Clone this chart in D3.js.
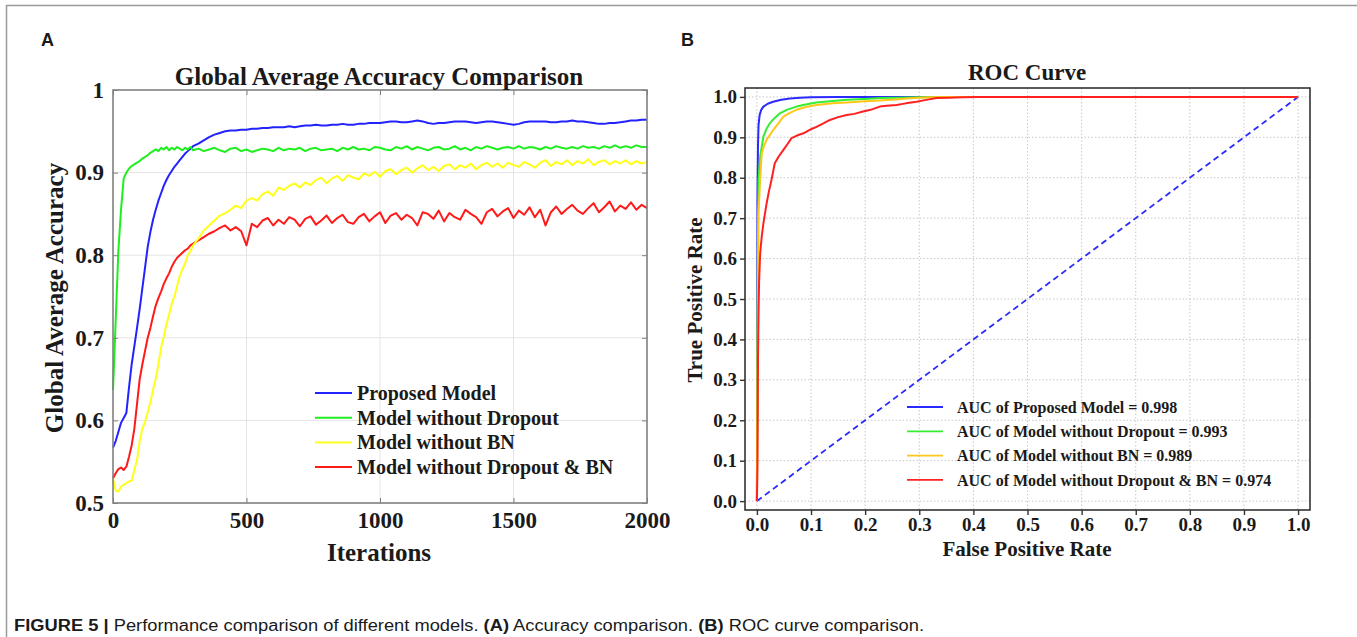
<!DOCTYPE html>
<html>
<head>
<meta charset="utf-8">
<script src="https://cdn.jsdelivr.net/npm/d3@7"></script>
<style>
  body { margin: 0; background: #fff; }
  svg { display: block; }
  .serif { font-family: "Liberation Serif", "Times New Roman", serif; font-weight: bold; fill: #1a1a1a; }
  .sans { font-family: "Liberation Sans", Arial, sans-serif; fill: #1a1a1a; }
</style>
</head>
<body>
<script>
'use strict';

// ---- panel A: accuracy vs iterations ----
var earlyIterations = [0, 10, 20, 30, 40, 50, 60, 70, 80, 90, 100, 110, 120, 130, 140, 150,
  160, 170, 180, 190, 200, 210, 220, 230, 240, 250, 260, 270, 280, 290, 300];
var lateIterations = [320, 340, 360, 380, 400, 420, 440, 460, 480, 500,
  520, 540, 560, 580, 600, 620, 640, 660, 680, 700,
  720, 740, 760, 780, 800, 820, 840, 860, 880, 900,
  920, 940, 960, 980, 1000, 1020, 1040, 1060, 1080, 1100,
  1120, 1140, 1160, 1180, 1200, 1220, 1240, 1260, 1280, 1300,
  1320, 1340, 1360, 1380, 1400, 1420, 1440, 1460, 1480, 1500,
  1520, 1540, 1560, 1580, 1600, 1620, 1640, 1660, 1680, 1700,
  1720, 1740, 1760, 1780, 1800, 1820, 1840, 1860, 1880, 1900,
  1920, 1940, 1960, 1980, 2000];

var proposedAcc = [0.567, 0.575, 0.586, 0.597, 0.603, 0.609, 0.640, 0.668, 0.690, 0.712,
  0.735, 0.760, 0.785, 0.810, 0.828, 0.843, 0.855, 0.866, 0.875, 0.884,
  0.891, 0.897, 0.902, 0.907, 0.911, 0.915, 0.919, 0.923, 0.926, 0.929, 0.932,
  0.935, 0.939, 0.943, 0.946, 0.948, 0.950, 0.951, 0.951, 0.952, 0.952,
  0.953, 0.953, 0.954, 0.954, 0.955, 0.955, 0.955, 0.956, 0.955, 0.956,
  0.957, 0.957, 0.958, 0.957, 0.957, 0.958, 0.958, 0.959, 0.958, 0.958,
  0.959, 0.959, 0.960, 0.960, 0.960, 0.961, 0.962, 0.962, 0.961, 0.961,
  0.962, 0.963, 0.962, 0.960, 0.959, 0.960, 0.960, 0.961, 0.962, 0.962,
  0.962, 0.961, 0.960, 0.961, 0.962, 0.962, 0.961, 0.960, 0.959, 0.958,
  0.959, 0.961, 0.962, 0.962, 0.962, 0.962, 0.961, 0.961, 0.962, 0.962,
  0.963, 0.962, 0.962, 0.961, 0.960, 0.959, 0.959, 0.960, 0.960, 0.961,
  0.962, 0.963, 0.963, 0.964, 0.964];

var noDropoutAcc = [0.637, 0.720, 0.805, 0.855, 0.893, 0.900, 0.905, 0.908, 0.910, 0.912,
  0.914, 0.917, 0.919, 0.921, 0.924, 0.926, 0.928, 0.926, 0.930, 0.928,
  0.931, 0.927, 0.930, 0.928, 0.931, 0.929, 0.927, 0.930, 0.928, 0.931, 0.927,
  0.929, 0.926, 0.928, 0.930, 0.927, 0.925, 0.929, 0.930, 0.926, 0.928,
  0.925, 0.927, 0.929, 0.928, 0.926, 0.930, 0.927, 0.929, 0.928, 0.930,
  0.926, 0.929, 0.930, 0.927, 0.928, 0.929, 0.926, 0.930, 0.928, 0.931,
  0.928, 0.929, 0.927, 0.931, 0.930, 0.928, 0.927, 0.931, 0.929, 0.932,
  0.928, 0.931, 0.929, 0.927, 0.930, 0.931, 0.928, 0.929, 0.932, 0.928,
  0.930, 0.927, 0.931, 0.929, 0.932, 0.930, 0.928, 0.930, 0.931, 0.929,
  0.932, 0.929, 0.931, 0.930, 0.928, 0.931, 0.929, 0.932, 0.930, 0.929,
  0.931, 0.929, 0.932, 0.930, 0.931, 0.929, 0.932, 0.930, 0.933, 0.930,
  0.932, 0.930, 0.933, 0.931, 0.931];

var noBnAcc = [0.530, 0.515, 0.514, 0.520, 0.522, 0.524, 0.526, 0.527, 0.540, 0.552,
  0.575, 0.590, 0.598, 0.610, 0.622, 0.637, 0.650, 0.668, 0.688, 0.701,
  0.716, 0.728, 0.741, 0.750, 0.762, 0.775, 0.783, 0.790, 0.800, 0.805, 0.812,
  0.820, 0.830, 0.836, 0.842, 0.848, 0.851, 0.855, 0.860, 0.857, 0.866,
  0.869, 0.866, 0.874, 0.877, 0.872, 0.882, 0.879, 0.884, 0.887, 0.882,
  0.888, 0.885, 0.891, 0.894, 0.887, 0.893, 0.896, 0.890, 0.897, 0.894,
  0.892, 0.899, 0.896, 0.901, 0.895, 0.902, 0.904, 0.898, 0.903, 0.906,
  0.900, 0.905, 0.909, 0.903, 0.907, 0.902, 0.908, 0.910, 0.904, 0.909,
  0.906, 0.911, 0.904, 0.909, 0.912, 0.907, 0.911, 0.906, 0.912, 0.909,
  0.907, 0.913, 0.910, 0.906, 0.912, 0.915, 0.908, 0.913, 0.910, 0.915,
  0.909, 0.914, 0.911, 0.916, 0.909, 0.913, 0.915, 0.910, 0.914, 0.911,
  0.915, 0.910, 0.914, 0.911, 0.913];

var noDropoutBnAcc = [0.530, 0.536, 0.541, 0.543, 0.540, 0.544, 0.556, 0.570, 0.590, 0.620,
  0.650, 0.668, 0.684, 0.700, 0.712, 0.726, 0.739, 0.748, 0.756, 0.765,
  0.772, 0.778, 0.786, 0.792, 0.797, 0.800, 0.803, 0.806, 0.808, 0.812, 0.814,
  0.818, 0.822, 0.826, 0.829, 0.833, 0.836, 0.830, 0.834, 0.829, 0.812,
  0.838, 0.834, 0.842, 0.845, 0.836, 0.843, 0.838, 0.846, 0.843, 0.835,
  0.844, 0.847, 0.837, 0.842, 0.848, 0.839, 0.845, 0.849, 0.840, 0.838,
  0.846, 0.850, 0.841, 0.847, 0.852, 0.839, 0.848, 0.851, 0.843, 0.849,
  0.845, 0.836, 0.852, 0.850, 0.844, 0.854, 0.841, 0.851, 0.846, 0.843,
  0.855, 0.850, 0.846, 0.838, 0.852, 0.856, 0.847, 0.853, 0.857, 0.845,
  0.854, 0.849, 0.858, 0.846, 0.855, 0.836, 0.852, 0.859, 0.850, 0.856,
  0.861, 0.854, 0.850, 0.857, 0.863, 0.852, 0.858, 0.865, 0.853, 0.860,
  0.856, 0.864, 0.855, 0.861, 0.857];

var accNames = ["Proposed Model", "Model without Dropout", "Model without BN", "Model without Dropout & BN"];
var accColors = ["#2323ff", "#1fee1f", "#ffff1a", "#ff1a1a"];
var accTicksX = [0, 500, 1000, 1500, 2000];
var accTicksY = [0.5, 0.6, 0.7, 0.8, 0.9, 1];

// ---- panel B: ROC curves ----
var rocFprProposed = [0, 0.0005, 0.001, 0.002, 0.003, 0.005, 0.008, 0.012, 0.02, 0.03, 0.045, 0.061, 0.08, 0.1, 0.15, 0.2, 0.3, 1.0];
var rocTprProposed = [0, 0.3, 0.75, 0.88, 0.93, 0.955, 0.968, 0.976, 0.983, 0.988, 0.993, 0.996, 0.998, 0.999, 1.0, 1.0, 1.0, 1.0];
var rocFprNoDropout = [0, 0.001, 0.002, 0.003, 0.006, 0.012, 0.018, 0.024, 0.033, 0.043, 0.055, 0.073, 0.09, 0.11, 0.14, 0.166, 0.2, 0.227, 0.26, 0.3, 0.35, 0.4, 1.0];
var rocTprNoDropout = [0, 0.35, 0.68, 0.795, 0.852, 0.902, 0.922, 0.935, 0.948, 0.96, 0.968, 0.976, 0.981, 0.986, 0.99, 0.993, 0.995, 0.997, 0.998, 0.999, 1.0, 1.0, 1.0];
var rocFprNoBn = [0, 0.001, 0.002, 0.003, 0.006, 0.009, 0.013, 0.018, 0.024, 0.03, 0.04, 0.049, 0.06, 0.073, 0.09, 0.11, 0.14, 0.166, 0.2, 0.227, 0.26, 0.289, 0.32, 0.35, 0.4, 1.0];
var rocTprNoBn = [0, 0.3, 0.55, 0.712, 0.795, 0.861, 0.878, 0.894, 0.906, 0.918, 0.935, 0.951, 0.96, 0.968, 0.975, 0.98, 0.984, 0.986, 0.989, 0.991, 0.994, 0.997, 0.999, 1.0, 1.0, 1.0];
var rocFprNoDropoutBn = [0, 0.001, 0.002, 0.003, 0.004, 0.006, 0.009, 0.012, 0.018, 0.022,
  0.027, 0.033, 0.04, 0.049, 0.057, 0.064, 0.075, 0.086, 0.1, 0.11,
  0.122, 0.135, 0.15, 0.166, 0.18, 0.196, 0.21, 0.227, 0.24, 0.258,
  0.275, 0.295, 0.31, 0.332, 0.355, 0.38, 0.41, 0.44, 1.0];
var rocTprNoDropoutBn = [0, 0.08, 0.35, 0.465, 0.54, 0.613, 0.655, 0.687, 0.737, 0.765,
  0.795, 0.836, 0.852, 0.869, 0.884, 0.898, 0.905, 0.91, 0.92, 0.926,
  0.934, 0.943, 0.95, 0.955, 0.958, 0.964, 0.968, 0.976, 0.978, 0.98,
  0.984, 0.988, 0.992, 0.997, 0.998, 0.999, 1.0, 1.0, 1.0];
var chanceLine = [0, 1];

var rocNames = ["AUC of Proposed Model = 0.998", "AUC of Model without Dropout = 0.993",
  "AUC of Model without BN = 0.989", "AUC of Model without Dropout & BN = 0.974"];
var rocColors = ["#2a2aff", "#33ee33", "#ffc61a", "#ff2020"];
var rocTicks = [0, 0.1, 0.2, 0.3, 0.4, 0.5, 0.6, 0.7, 0.8, 0.9, 1.0];

var width = 1357;
var height = 637;

var svg = d3.select("body").append("svg")
    .attr("width", width)
    .attr("height", height);

// figure frame
svg.append("rect")
    .attr("x", 6.5).attr("y", 5.5)
    .attr("width", 1360).attr("height", 700)
    .attr("fill", "none")
    .attr("stroke", "#9a9a9a")
    .attr("stroke-width", 1.5);

svg.append("text").attr("class", "sans").attr("x", 41).attr("y", 46)
    .style("font-size", "18px").style("font-weight", "bold").text("A");
svg.append("text").attr("class", "sans").attr("x", 681).attr("y", 46)
    .style("font-size", "18px").style("font-weight", "bold").text("B");

// ================= panel A =================
var x = d3.scaleLinear().domain([0, 2000]).range([113, 647]);
var y = d3.scaleLinear().domain([0.5, 1]).range([503, 90]);

var gA = svg.append("g");

gA.append("g").selectAll("line").data(accTicksX.slice(1, -1)).join("line")
    .attr("x1", d => x(d)).attr("x2", d => x(d))
    .attr("y1", y(1)).attr("y2", y(0.5))
    .attr("stroke", "#e4e4e4").attr("stroke-width", 1);
gA.append("g").selectAll("line").data(accTicksY.slice(1, -1)).join("line")
    .attr("x1", x(0)).attr("x2", x(2000))
    .attr("y1", d => y(d)).attr("y2", d => y(d))
    .attr("stroke", "#e4e4e4").attr("stroke-width", 1);

var iterations = earlyIterations.concat(lateIterations);
var accSeries = [proposedAcc, noDropoutAcc, noBnAcc, noDropoutBnAcc];

var accLine = d3.line()
    .x(d => x(d[0]))
    .y(d => y(d[1]));

// draw bottom-most first so blue / green sit on top like the original
[3, 2, 0, 1].forEach(function (i) {
    gA.append("path")
        .datum(iterations.map((it, k) => [it, accSeries[i][k]]))
        .attr("fill", "none")
        .attr("stroke", accColors[i])
        .attr("stroke-width", 2)
        .attr("stroke-linejoin", "round")
        .attr("d", accLine);
});

gA.append("rect")
    .attr("x", x(0)).attr("y", y(1))
    .attr("width", x(2000) - x(0)).attr("height", y(0.5) - y(1))
    .attr("fill", "none").attr("stroke", "#808080").attr("stroke-width", 1.6);

var xAxisA = d3.axisBottom(x).tickValues(accTicksX).tickFormat(d3.format("d"))
    .tickSizeInner(-5).tickSizeOuter(0).tickPadding(9);
var xAxisAGroup = gA.append("g").attr("transform", "translate(0," + y(0.5) + ")");
xAxisA(xAxisAGroup);
var yAxisA = d3.axisLeft(y).tickValues(accTicksY).tickFormat(d3.format(""))
    .tickSizeInner(-5).tickSizeOuter(0).tickPadding(9);
var yAxisAGroup = gA.append("g").attr("transform", "translate(" + x(0) + ",0)");
yAxisA(yAxisAGroup);
// mirrored ticks on top / right
gA.append("g").call(d3.axisTop(x).tickValues(accTicksX).tickSizeInner(-5).tickSizeOuter(0).tickFormat(""))
    .attr("transform", "translate(0," + y(1) + ")");
gA.append("g").call(d3.axisRight(y).tickValues(accTicksY).tickSizeInner(-5).tickSizeOuter(0).tickFormat(""))
    .attr("transform", "translate(" + x(2000) + ",0)");

gA.selectAll(".domain").remove();
gA.selectAll(".tick line").attr("stroke", "#808080");
gA.selectAll(".tick text").attr("class", "serif").style("font-size", "23px").attr("fill", "#1a1a1a");

gA.append("text").attr("class", "serif")
    .attr("x", 379).attr("y", 85)
    .attr("text-anchor", "middle")
    .style("font-size", "25px")
    .text("Global Average Accuracy Comparison");
gA.append("text").attr("class", "serif")
    .attr("x", 379).attr("y", 561)
    .attr("text-anchor", "middle")
    .style("font-size", "25px")
    .text("Iterations");
gA.append("text").attr("class", "serif")
    .attr("transform", "translate(63,298) rotate(-90)")
    .attr("text-anchor", "middle")
    .style("font-size", "25px")
    .text("Global Average Accuracy");

var legA = gA.append("g").selectAll("g").data(accNames).join("g")
    .attr("transform", (d, i) => "translate(315," + (393 + i * 24.7) + ")");
legA.append("line").attr("x1", 0).attr("x2", 37)
    .attr("stroke", (d, i) => accColors[i]).attr("stroke-width", 2);
legA.append("text").attr("class", "serif")
    .attr("x", 42).attr("dy", "0.35em")
    .style("font-size", "20px")
    .text(d => d);

// ================= panel B =================
var xr = d3.scaleLinear().domain([-0.022, 1.022]).range([745, 1310]);
var yr = d3.scaleLinear().domain([-0.022, 1.022]).range([510, 88]);

var gB = svg.append("g");

gB.append("g").selectAll("line").data(rocTicks).join("line")
    .attr("x1", d => xr(d)).attr("x2", d => xr(d))
    .attr("y1", yr(1.022)).attr("y2", yr(-0.022))
    .attr("stroke", "#c8c8c8").attr("stroke-width", 1).attr("stroke-dasharray", "1.5,2");
gB.append("g").selectAll("line").data(rocTicks).join("line")
    .attr("x1", xr(-0.022)).attr("x2", xr(1.022))
    .attr("y1", d => yr(d)).attr("y2", d => yr(d))
    .attr("stroke", "#c8c8c8").attr("stroke-width", 1).attr("stroke-dasharray", "1.5,2");

var rocLine = d3.line()
    .x(d => xr(d[0]))
    .y(d => yr(d[1]));

gB.append("path")
    .datum(chanceLine.map(v => [v, v]))
    .attr("fill", "none")
    .attr("stroke", "#2a2aff")
    .attr("stroke-width", 1.8)
    .attr("stroke-dasharray", "6,4")
    .attr("d", rocLine);

var rocFpr = [rocFprProposed, rocFprNoDropout, rocFprNoBn, rocFprNoDropoutBn];
var rocTpr = [rocTprProposed, rocTprNoDropout, rocTprNoBn, rocTprNoDropoutBn];
rocFpr.forEach(function (fpr, i) {
    gB.append("path")
        .datum(fpr.map((f, k) => [f, rocTpr[i][k]]))
        .attr("fill", "none")
        .attr("stroke", rocColors[i])
        .attr("stroke-width", 2)
        .attr("stroke-linejoin", "round")
        .attr("d", rocLine);
});

gB.append("rect")
    .attr("x", xr(-0.022)).attr("y", yr(1.022))
    .attr("width", xr(1.022) - xr(-0.022)).attr("height", yr(-0.022) - yr(1.022))
    .attr("fill", "none").attr("stroke", "#333").attr("stroke-width", 1.6);

var xAxisB = d3.axisBottom(xr).tickValues(rocTicks).tickFormat(d3.format(".1f")).tickSizeInner(5).tickSizeOuter(0).tickPadding(3);
var xAxisBGroup = gB.append("g").attr("transform", "translate(0," + yr(-0.022) + ")");
xAxisB(xAxisBGroup);
var yAxisB = d3.axisLeft(yr).tickValues(rocTicks).tickFormat(d3.format(".1f")).tickSizeInner(5).tickSizeOuter(0).tickPadding(3);
var yAxisBGroup = gB.append("g").attr("transform", "translate(" + xr(-0.022) + ",0)");
yAxisB(yAxisBGroup);

gB.selectAll(".domain").remove();
gB.selectAll(".tick line").attr("stroke", "#333").attr("stroke-width", 1.4);
gB.selectAll(".tick text").attr("class", "serif").style("font-size", "19px").attr("fill", "#1a1a1a");

gB.append("text").attr("class", "serif")
    .attr("x", 1027).attr("y", 80)
    .attr("text-anchor", "middle")
    .style("font-size", "23px")
    .text("ROC Curve");
gB.append("text").attr("class", "serif")
    .attr("x", 1027).attr("y", 556)
    .attr("text-anchor", "middle")
    .style("font-size", "21px")
    .text("False Positive Rate");
gB.append("text").attr("class", "serif")
    .attr("transform", "translate(702,300) rotate(-90)")
    .attr("text-anchor", "middle")
    .style("font-size", "21px")
    .text("True Positive Rate");

var legB = gB.append("g").selectAll("g").data(rocNames).join("g")
    .attr("transform", (d, i) => "translate(907," + (407 + i * 24.3) + ")");
legB.append("line").attr("x1", 0).attr("x2", 36)
    .attr("stroke", (d, i) => rocColors[i]).attr("stroke-width", 1.8);
legB.append("text").attr("class", "serif")
    .attr("x", 50).attr("dy", "0.35em")
    .style("font-size", "16px")
    .text(d => d);

// ---- caption ----
var caption = svg.append("text").attr("class", "sans")
    .attr("x", 14).attr("y", 631)
    .style("font-size", "16px");
caption.append("tspan").style("font-weight", "bold").text("FIGURE 5 | ");
caption.append("tspan").text("Performance comparison of different models. ");
caption.append("tspan").style("font-weight", "bold").text("(A)");
caption.append("tspan").text(" Accuracy comparison. ");
caption.append("tspan").style("font-weight", "bold").text("(B)");
caption.append("tspan").text(" ROC curve comparison.");
caption.attr("textLength", 910).attr("lengthAdjust", "spacingAndGlyphs");
</script>
</body>
</html>
